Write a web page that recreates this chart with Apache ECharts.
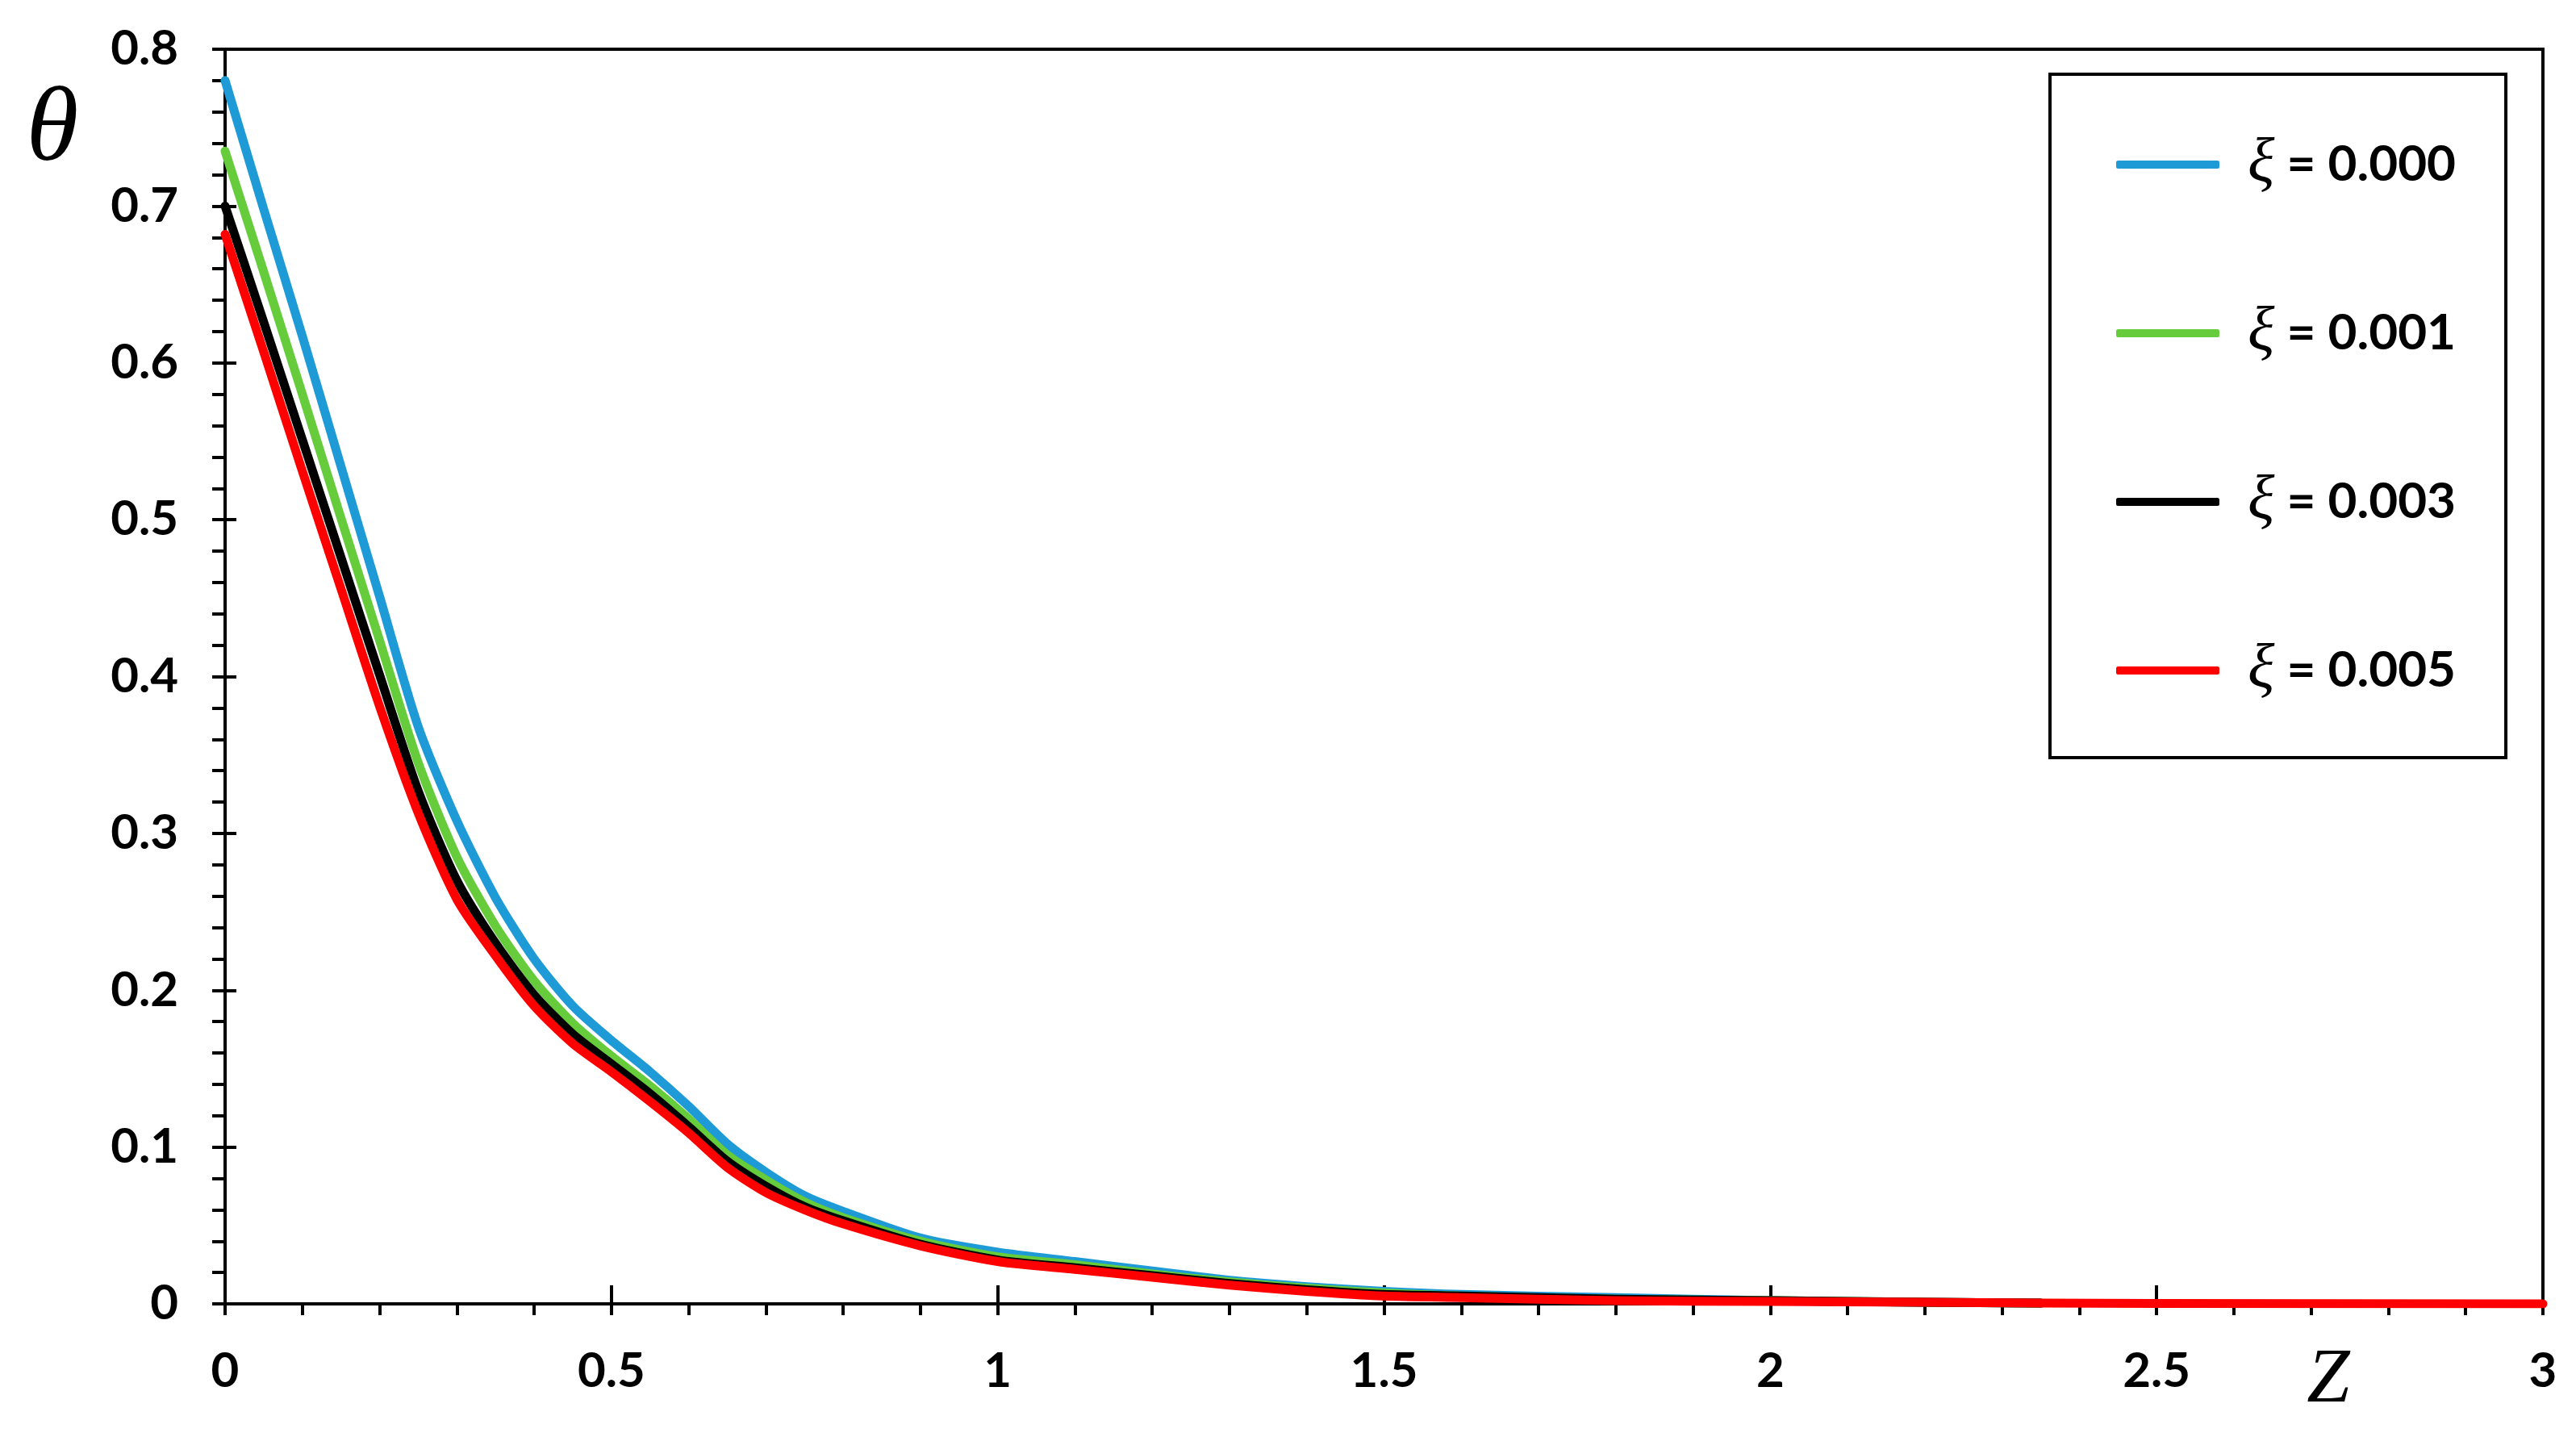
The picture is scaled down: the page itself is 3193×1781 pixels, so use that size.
<!DOCTYPE html>
<html>
<head>
<meta charset="utf-8">
<script src="https://cdn.jsdelivr.net/npm/echarts@6/dist/echarts.min.js"></script>
<style>
  html, body { margin: 0; padding: 0; background: #fff; }
  #chart { width: 3193px; height: 1781px; }
</style>
</head>
<body>
<div id="chart"></div>
<script>
"use strict";

// Z positions
var zVals = [0, 0.05, 0.1, 0.15, 0.2, 0.25, 0.3, 0.35, 0.4, 0.45, 0.5, 0.55, 0.6, 0.65, 0.7, 0.75, 0.8, 0.9, 1.0, 1.1, 1.2, 1.3, 1.4, 1.5, 1.6, 1.8, 2.0, 2.2, 2.35];
var zValsRed = zVals.concat([2.5, 3.0]);

// theta for each xi
var theta000 = [0.780, 0.698, 0.617, 0.534, 0.451, 0.368, 0.308, 0.259, 0.220, 0.190, 0.168, 0.148, 0.126, 0.102, 0.084, 0.069, 0.059, 0.042, 0.033, 0.027, 0.021, 0.015, 0.011, 0.008, 0.006, 0.004, 0.002, 0.001, 0.0005];
var theta001 = [0.735, 0.658, 0.580, 0.501, 0.423, 0.345, 0.285, 0.241, 0.206, 0.179, 0.158, 0.139, 0.118, 0.095, 0.079, 0.065, 0.055, 0.040, 0.030, 0.025, 0.019, 0.014, 0.010, 0.007, 0.005, 0.003, 0.002, 0.001, 0.0005];
var theta003 = [0.700, 0.626, 0.551, 0.476, 0.401, 0.327, 0.270, 0.230, 0.197, 0.172, 0.153, 0.134, 0.113, 0.091, 0.075, 0.062, 0.053, 0.038, 0.028, 0.023, 0.018, 0.013, 0.009, 0.006, 0.005, 0.003, 0.002, 0.001, 0.0005];
var theta005 = [0.682, 0.607, 0.531, 0.456, 0.381, 0.313, 0.258, 0.222, 0.190, 0.166, 0.148, 0.129, 0.109, 0.087, 0.071, 0.060, 0.051, 0.037, 0.027, 0.022, 0.017, 0.012, 0.008, 0.005, 0.004, 0.002, 0.0015, 0.001, 0.0005, 0.0003, 0];

var seriesNames = ["ξ = 0.000", "ξ = 0.001", "ξ = 0.003", "ξ = 0.005"];
var seriesColors = ["#1e9ad6", "#66cc3c", "#000000", "#ff0000"];

function pairs(xs, ys) {
  return xs.map(function (x, i) { return [x, ys[i]]; });
}

var chartDom = document.getElementById("chart");
var myChart = echarts.init(chartDom, null, { renderer: "canvas" });

var labelFont = { fontFamily: "Lato", fontWeight: "bold", fontSize: 60, color: "#000" };

function makeLine(name, data, color) {
  return {
    name: name,
    type: "line",
    data: data,
    symbol: "none",
    smooth: 0.25,
    clip: true,
    lineStyle: { color: color, width: 11, cap: "round", join: "round" },
    itemStyle: { color: color },
    emphasis: { disabled: true }
  };
}

var option = {
  animation: false,
  backgroundColor: "#fff",
  grid: {
    left: 279,
    right: 41,
    top: 61,
    bottom: 165,
    outerBoundsMode: "none",
    show: true,
    borderColor: "#000",
    borderWidth: 4,
    backgroundColor: "transparent"
  },
  xAxis: [
    {
      type: "value",
      min: 0,
      max: 3,
      interval: 0.5,
      position: "bottom",
      axisLine: { show: true, onZero: false, lineStyle: { color: "#000", width: 4 } },
      axisTick: { show: true, inside: false, length: 14, lineStyle: { color: "#000", width: 4 } },
      minorTick: { show: true, splitNumber: 5, length: 14, lineStyle: { color: "#000", width: 4 } },
      splitLine: { show: false },
      axisLabel: Object.assign({ margin: 54 }, labelFont)
    },
    {
      type: "value",
      min: 0,
      max: 3,
      interval: 0.5,
      position: "bottom",
      axisLine: { show: false, onZero: false },
      axisTick: { show: true, inside: true, length: 23, lineStyle: { color: "#000", width: 4 } },
      splitLine: { show: false },
      axisLabel: { show: false }
    }
  ],
  yAxis: [
    {
      type: "value",
      min: 0,
      max: 0.8,
      interval: 0.1,
      position: "left",
      axisLine: { show: true, onZero: false, lineStyle: { color: "#000", width: 4 } },
      axisTick: { show: true, inside: false, length: 16, lineStyle: { color: "#000", width: 4 } },
      minorTick: { show: true, splitNumber: 5, length: 16, lineStyle: { color: "#000", width: 4 } },
      splitLine: { show: false },
      axisLabel: Object.assign({ margin: 58 }, labelFont)
    },
    {
      type: "value",
      min: 0,
      max: 0.8,
      interval: 0.1,
      position: "left",
      axisLine: { show: false, onZero: false },
      axisTick: { show: true, inside: true, length: 14, lineStyle: { color: "#000", width: 4 } },
      splitLine: { show: false },
      axisLabel: { show: false }
    }
  ],
  legend: {
    orient: "vertical",
    left: 2541,
    top: 92,
    padding: [73, 62, 69, 82],
    itemGap: 131,
    itemWidth: 128,
    itemHeight: 10,
    icon: "roundRect",
    borderColor: "#000",
    borderWidth: 4,
    backgroundColor: "#fff",
    selectedMode: false,
    data: seriesNames,
    formatter: function (name) {
      var parts = name.split(" = ");
      return "{xi|" + parts[0] + "}{v| = " + parts[1] + "}";
    },
    textStyle: {
      rich: {
        // legend puts text only 5px after the icon, so pad the first token
        xi: { fontFamily: "Liberation Serif", fontStyle: "italic", fontSize: 78, lineHeight: 60, color: "#000", padding: [0, 0, 0, 30] },
        v: { fontFamily: "Lato", fontWeight: "bold", fontSize: 62, lineHeight: 60, color: "#000" }
      }
    }
  },
  graphic: [
    {
      type: "text",
      x: 65,
      y: 163,
      style: { text: "θ", fontFamily: "Liberation Serif", fontStyle: "italic", fontSize: 132, fill: "#000", align: "center", verticalAlign: "middle" }
    },
    {
      type: "text",
      x: 2886,
      y: 1712,
      style: { text: "Z", fontFamily: "Liberation Serif", fontStyle: "italic", fontSize: 96, fill: "#000", align: "center", verticalAlign: "middle" }
    }
  ],
  series: [
    makeLine(seriesNames[0], pairs(zVals, theta000), seriesColors[0]),
    makeLine(seriesNames[1], pairs(zVals, theta001), seriesColors[1]),
    makeLine(seriesNames[2], pairs(zVals, theta003), seriesColors[2]),
    makeLine(seriesNames[3], pairs(zValsRed, theta005), seriesColors[3])
  ]
};

option && myChart.setOption(option);
window.onresize = function () {
  myChart.resize();
};
</script>
</body>
</html>
